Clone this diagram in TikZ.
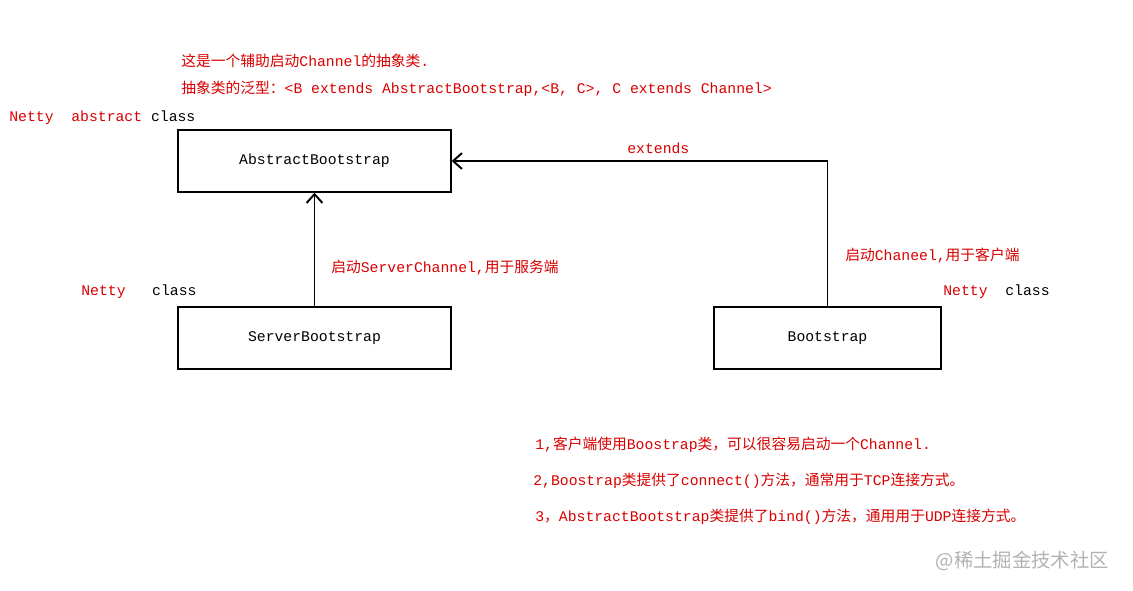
\documentclass[tikz,border=0pt]{standalone}
\usepackage{fontspec}
\setmainfont{Liberation Mono}
\newfontfamily\cjk{Noto Sans CJK SC}
\usetikzlibrary{positioning,arrows.meta}
\tikzset{
  cls/.style={draw, thick, minimum width=273*0.02cm, minimum height=62*0.02cm, font=\fontsize{8.4}{10}\selectfont},
  note/.style={text=red!85!black, anchor=west, inner sep=0pt, font=\fontsize{8.4}{10}\selectfont},
  tag/.style={anchor=west, inner sep=0pt, font=\fontsize{8.4}{10}\selectfont},
  link/.style={line width=1.1pt, -{Straight Barb[length=5pt,width=9pt]}}
}
\begin{document}
\begin{tikzpicture}[x=0.02cm, y=-0.02cm]
    \useasboundingbox[fill=white] (0,0) rectangle (1133,591);
    % Classes
    \node [cls] (abs) at (314.5,161) {AbstractBootstrap};
    \node [cls] (srv) at (314.5,338) {ServerBootstrap};
    \node [cls, minimum width=227*0.02cm] (boot) at (827.5,338) {Bootstrap};

    % Header notes
    \node [note] (n1) at (181,61) {{\cjk 这是一个辅助启动}Channel{\cjk 的抽象类}.};
    \node [note] (n2) at (181,89) {{\cjk 抽象类的泛型：}<B extends AbstractBootstrap,<B, C>, C extends Channel>};

    % Kind tags
    \node [tag] (t0) at (9,118) {\textcolor{red!85!black}{Netty\ \ abstract} class};
    \node [tag] (t1) at (81,292) {\textcolor{red!85!black}{Netty}\ \ \ class};
    \node [tag] (t2) at (943,292) {\textcolor{red!85!black}{Netty}\ \ class};

    % Connectors
    \draw [link] (srv.north) -- (abs.south);
    \coordinate (bend) at (boot.north |- abs.east);
    \draw [link] (boot.north) -- (bend) -- (abs.east);
    \node [note] (srvl) at (331,268) {{\cjk 启动}ServerChannel,{\cjk 用于服务端}};
    \node [note] (ext) at (627,148) {extends};
    \node [note] (cli) at (845,256) {{\cjk 启动}Chaneel,{\cjk 用于客户端}};

    % Bottom notes
    \node [note] (b1) at (535,445) {1,{\cjk 客户端使用}Boostrap{\cjk 类，可以很容易启动一个}Channel.};
    \node [note] (b2) at (533,481) {2,Boostrap{\cjk 类提供了}connect(){\cjk 方法，通常用于}TCP{\cjk 连接方式。}};
    \node [note] (b3) at (535,517) {3{\cjk ，}AbstractBootstrap{\cjk 类提供了}bind(){\cjk 方法，通用用于}UDP{\cjk 连接方式。}};

    % Watermark
    \node [anchor=east, text=gray!60, font={\cjk\fontsize{11}{12}\selectfont}] (wm) at (1115,561) {@{\cjk 稀土掘金技术社区}};
\end{tikzpicture}
\end{document}
